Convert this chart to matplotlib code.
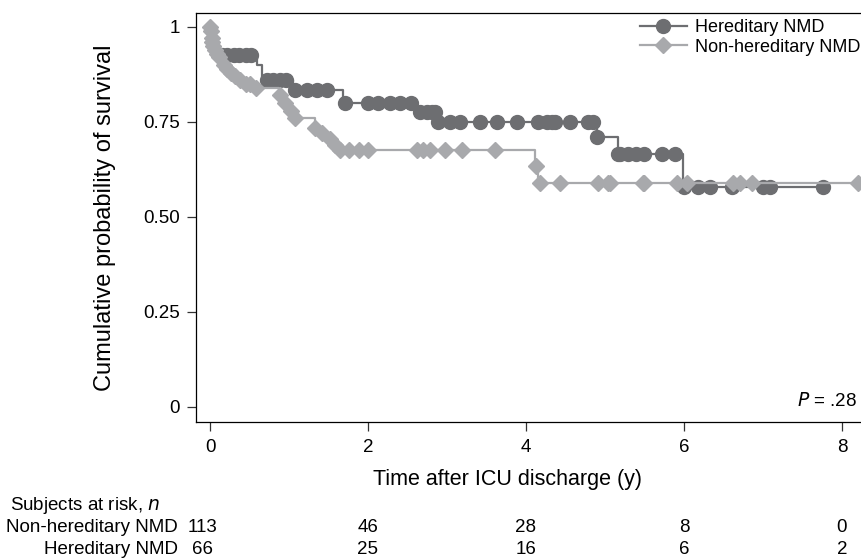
import matplotlib
matplotlib.use("Agg")
import matplotlib.pyplot as plt
import matplotlib.transforms as mtransforms
import numpy as np

plt.rcParams["font.family"] = ["Liberation Sans", "DejaVu Sans"]

# Kaplan-Meier steps (time in years, survival after the step)
here_t = [0, 0.02, 0.04, 0.07, 0.10, 0.14, 0.60, 0.66, 1.05, 1.68, 2.59, 2.87, 4.90, 5.16, 5.99]
here_s = [1.0, 0.985, 0.97, 0.955, 0.94, 0.925, 0.90, 0.86, 0.835, 0.80, 0.776, 0.75, 0.71, 0.666, 0.58]
here_cens = [0.15, 0.22, 0.30, 0.37, 0.45, 0.52, 0.72, 0.80, 0.88, 0.96,
             1.08, 1.23, 1.35, 1.48, 1.71, 2.00, 2.13, 2.28, 2.41, 2.55,
             2.66, 2.75, 2.81, 2.85, 2.89, 3.04, 3.16, 3.42, 3.63, 3.89,
             4.15, 4.27, 4.33, 4.37, 4.56, 4.78, 4.85, 4.90, 5.16, 5.19,
             5.29, 5.39, 5.50, 5.72, 5.89, 6.00, 6.18, 6.33, 6.61, 7.00, 7.09, 7.76]

nonh_t = [0, 0.01, 0.015, 0.02, 0.03, 0.04, 0.05, 0.07, 0.10, 0.13, 0.16, 0.20, 0.24,
          0.28, 0.34, 0.42, 0.55, 0.87, 0.93, 0.99, 1.04, 1.33, 1.40, 1.50, 1.56,
          1.62, 4.11, 4.15]
nonh_s = [1.0, 0.99, 0.98, 0.97, 0.96, 0.95, 0.94, 0.93, 0.92, 0.91, 0.90, 0.89, 0.88,
          0.87, 0.86, 0.85, 0.84, 0.82, 0.80, 0.78, 0.76, 0.735, 0.72, 0.705, 0.69,
          0.676, 0.634, 0.59]
nonh_cens = [0.0, 0.01, 0.02, 0.03, 0.04, 0.06, 0.09, 0.12, 0.18, 0.22, 0.26, 0.32,
             0.38, 0.45, 0.50, 0.58, 0.88, 0.95, 1.02, 1.07, 1.33, 1.42, 1.52, 1.58,
             1.65, 1.76, 1.88, 2.00, 2.62, 2.70, 2.78, 2.97, 3.19, 3.61, 4.13,
             4.18, 4.43, 4.91, 5.04, 5.06, 5.48, 5.50, 5.91, 6.04, 6.62, 6.71, 6.86, 8.20]

risk_times = [0, 2, 4, 6, 8]
risk_nonh = [113, 46, 28, 8, 0]
risk_here = [66, 25, 16, 6, 2]

dark = "#6d6e71"
light = "#a8a9ac"


def km_at(times, surv, pts):
    idx = np.searchsorted(times, pts, side="right") - 1
    return np.asarray(surv)[idx]


fig = plt.figure(figsize=(8.62, 5.59), dpi=100)
ax = fig.add_axes([0.2274, 0.2451, 0.7865, 0.7317])

for t, s, cens, col, mk, ms, lab, z in [
    (here_t, here_s, here_cens, dark, "o", 10, "Hereditary NMD", 2),
    (nonh_t, nonh_s, nonh_cens, light, "D", 8, "Non-hereditary NMD", 3),
]:
    tt = list(t) + [max(cens)]
    ss = list(s) + [s[-1]]
    ax.step(tt, ss, where="post", color=col, lw=1.6, zorder=z)
    ax.plot(cens, km_at(t, s, cens), ls="none", marker=mk, ms=ms, color=col,
            mec=col, zorder=z)
    ax.plot([], [], color=col, lw=1.6, marker=mk, ms=ms, label=lab)

ax.set_xlim(-0.177, 8.405)
ax.set_ylim(-0.0395, 1.0368)
ax.set_xticks([0, 2, 4, 6, 8])
ax.set_yticks([0, 0.25, 0.5, 0.75, 1], ["0", "0.25", "0.50", "0.75", "1"])
ax.tick_params(direction="out", length=6.5, width=0.9, pad=5, labelsize=13.5,
               color="#333333")
ax.tick_params(axis="x", pad=6)
for sp in ax.spines.values():
    sp.set_linewidth(0.9)

ax.set_ylabel("Cumulative probability of survival", fontsize=17)
ax.yaxis.set_label_coords(-0.118, 0.5)
ax.set_xlabel("Time after ICU discharge (y)", fontsize=15.5)
ax.xaxis.set_label_coords(0.46, -0.115)

ax.text(8.19, 0.015, r"$\it{P}$ = .28", ha="right", va="center", fontsize=13.5)

leg = ax.legend(loc="upper left", bbox_to_anchor=(640 / 862, 1 - 19 / 559),
                bbox_transform=fig.transFigure, frameon=False, fontsize=13,
                handlelength=2.6, handletextpad=0.45, labelspacing=0.15,
                borderaxespad=0, borderpad=0)

# numbers at risk table
tr = mtransforms.blended_transform_factory(ax.transData, fig.transFigure)
narrow = ["Liberation Sans Narrow", "Liberation Sans", "DejaVu Sans"]
fs_tab = 13.5
fig.text(10 / 862, 1 - 506 / 559, "Subjects at risk, $\\it{n}$", ha="left",
         va="center", fontsize=fs_tab, family=narrow)
fig.text(178 / 862, 1 - 528 / 559, "Non-hereditary NMD", ha="right",
         va="center", fontsize=fs_tab, family=narrow)
fig.text(178 / 862, 1 - 549 / 559, "Hereditary NMD", ha="right",
         va="center", fontsize=fs_tab, family=narrow)
for i, t in enumerate(risk_times):
    xt = -0.09 if t == 0 else t
    fig.text(xt, 1 - 528 / 559, str(risk_nonh[i]), transform=tr, ha="center",
             va="center", fontsize=fs_tab, family=narrow)
    fig.text(xt, 1 - 549 / 559, str(risk_here[i]), transform=tr, ha="center",
             va="center", fontsize=fs_tab, family=narrow)

fig.savefig("out.png", dpi=100)
